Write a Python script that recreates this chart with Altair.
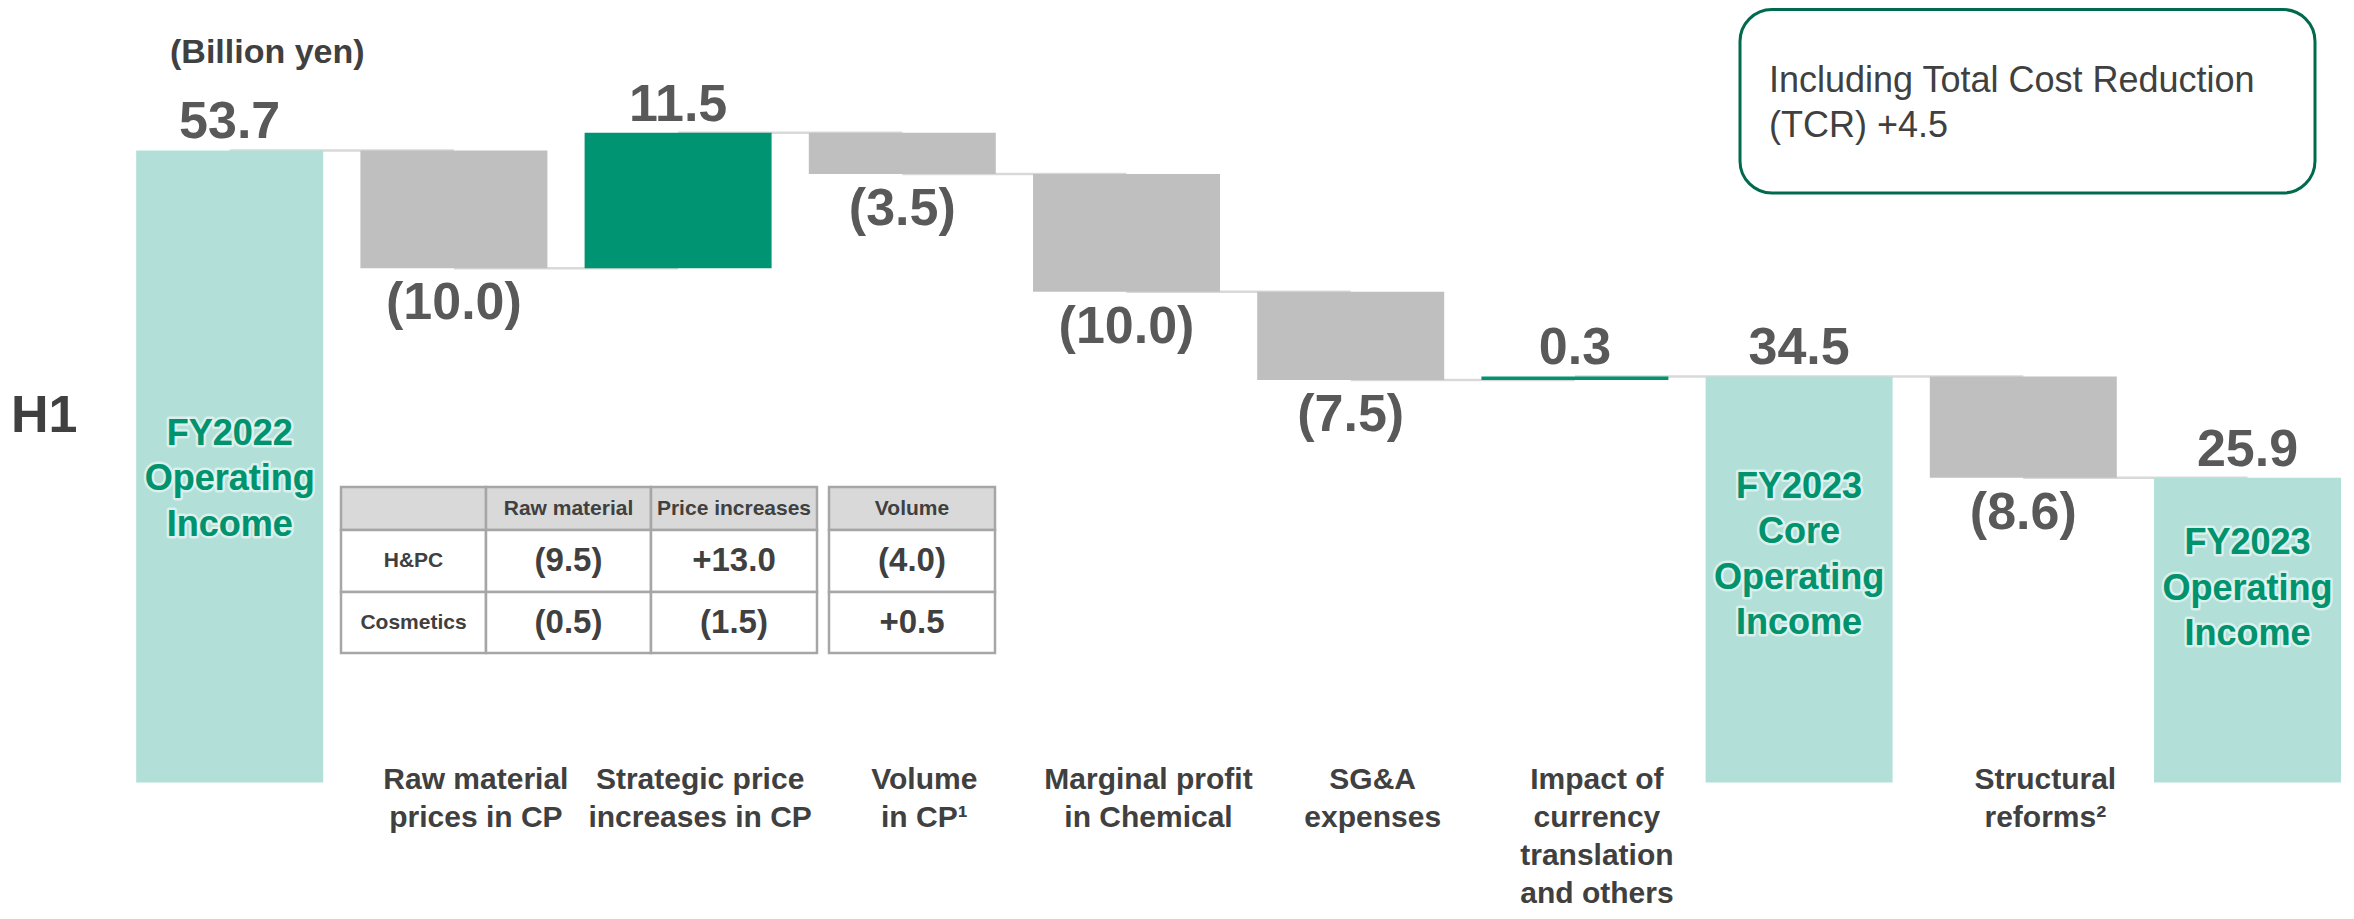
import altair as alt
import pandas as pd

# ---------------- data ----------------
steps = [
    "FY2022 Operating Income",
    "Raw material prices in CP",
    "Strategic price increases in CP",
    "Volume in CP¹",
    "Marginal profit in Chemical",
    "SG&A expenses",
    "Impact of currency translation and others",
    "FY2023 Core Operating Income",
    "Structural reforms²",
    "FY2023 Operating Income",
]
kinds = ["total", "delta", "delta", "delta", "delta", "delta", "delta", "total", "delta", "total"]
amounts = [53.7, -10.0, 11.5, -3.5, -10.0, -7.5, 0.3, 34.5, -8.6, 25.9]
inside_labels = [
    "FY2022\nOperating\nIncome", "", "", "", "", "", "",
    "FY2023\nCore\nOperating\nIncome", "", "FY2023\nOperating\nIncome",
]
under_labels = [
    "",
    "Raw material\nprices in CP",
    "Strategic price\nincreases in CP",
    "Volume\nin CP¹",
    "Marginal profit\nin Chemical",
    "SG&A\nexpenses",
    "Impact of\ncurrency\ntranslation\nand others",
    "",
    "Structural\nreforms²",
    "",
]

table_columns = ["Raw material", "Price increases", "Volume"]
table_rows = ["H&PC", "Cosmetics"]
table_raw = ["(9.5)", "(0.5)"]
table_price = ["+13.0", "(1.5)"]
table_volume = ["(4.0)", "+0.5"]

note_lines = ["Including Total Cost Reduction", "(TCR) +4.5"]
unit_text = "(Billion yen)"
period_text = "H1"

# ---------------- layout / style ----------------
W, H = 2338, 903
FONT = "Liberation Sans"
DARK = "#404040"
NUM = "#595959"
GREEN_TXT = "#00936e"
PX_PER_UNIT = (774.5 - 68.3) / 60
INSIDE_LH = 45.5

xs = alt.Scale(domain=steps, range=[128.2, 2333], paddingInner=0.166, paddingOuter=0)
ys = alt.Scale(domain=[0, 60], range=[774.5, 68.3], nice=False, zero=False)
idx = alt.Scale(domain=[0, W], range=[0, W], nice=False, zero=False)
idy = alt.Scale(domain=[0, H], range=[0, H], nice=False, zero=False)

TABLE_COL_EDGES = [(333, 478), (478, 643), (643, 809), (821, 987)]
TABLE_ROW_EDGES = [(479, 522), (522, 584), (584, 645)]
BOX = dict(x0=1732, x1=2307, y0=1.5, y1=185)

# ---------------- waterfall table ----------------
recs = []
level = 0.0
for i, (s, k, a) in enumerate(zip(steps, kinds, amounts)):
    if k == "total":
        start, end = 0.0, a
        kind = "total"
    else:
        start, end = level, round(level + a, 1)
        kind = "up" if a > 0 else "down"
    level = end
    label = f"{abs(a):.1f}" if a > 0 else f"({abs(a):.1f})"
    recs.append(dict(
        step=s, kind=kind, start=start, end=end,
        top=max(start, end), bottom=min(start, end), label=label,
        inside=inside_labels[i], nlines=len(inside_labels[i].split("\n")),
        under=under_labels[i],
        next=steps[i + 1] if i + 1 < len(steps) else None,
    ))
df = pd.DataFrame(recs)
conn = df[df["next"].notna()]

X = alt.X("step:N", scale=xs, axis=None)

connectors = alt.Chart(conn).mark_rule(color="#d9d9d9", strokeWidth=2.5).encode(
    x=X, x2=alt.X2("next:N"), y=alt.Y("end:Q", scale=ys, axis=None)
)

bars = alt.Chart(df).mark_bar().encode(
    x=X,
    y=alt.Y("start:Q", scale=ys, axis=None),
    y2="end:Q",
    color=alt.Color("kind:N", scale=alt.Scale(domain=["total", "up", "down"],
                                              range=["#b2dfd8", "#009473", "#bfbfbf"]), legend=None),
)

above = alt.Chart(df).transform_filter("datum.kind != 'down'").mark_text(
    font=FONT, fontSize=52, fontWeight="bold", color=NUM, baseline="alphabetic", dy=-12
).encode(x=X, y=alt.Y("top:Q", scale=ys, axis=None), text="label:N")

below = alt.Chart(df).transform_filter("datum.kind == 'down'").mark_text(
    font=FONT, fontSize=52, fontWeight="bold", color=NUM, baseline="alphabetic", dy=51
).encode(x=X, y=alt.Y("bottom:Q", scale=ys, axis=None), text="label:N")

inside_base = alt.Chart(df).transform_filter("datum.kind == 'total'").transform_calculate(
    first=f"7.78 + 0.335 * datum.end + (datum.nlines - 1) / 2 * {INSIDE_LH} / {PX_PER_UNIT}"
)
inside_enc = dict(x=X, y=alt.Y("first:Q", scale=ys, axis=None), text="inside:N")
inside_halo = inside_base.mark_text(
    font=FONT, fontSize=36, fontWeight="bold", color=GREEN_TXT, baseline="middle",
    lineBreak="\n", lineHeight=INSIDE_LH, stroke="white", strokeWidth=5,
    strokeOpacity=0.55, strokeJoin="round"
).encode(**inside_enc)
inside = inside_base.mark_text(
    font=FONT, fontSize=36, fontWeight="bold", color=GREEN_TXT, baseline="middle",
    lineBreak="\n", lineHeight=INSIDE_LH
).encode(**inside_enc)

under = alt.Chart(df).transform_filter("datum.kind != 'total'").mark_text(
    font=FONT, fontSize=30, fontWeight="bold", color=DARK, baseline="alphabetic",
    lineBreak="\n", lineHeight=38, dx=22
).encode(x=X, y=alt.value(781), text="under:N")

main = alt.layer(connectors, bars, above, below, inside_halo, inside, under)

# ---------------- annotation layer (table, note box, titles) ----------------
cells = []
texts = []
col_values = [table_raw, table_price, table_volume]
for ci, (cx0, cx1) in enumerate(TABLE_COL_EDGES):
    for ri, (ry0, ry1) in enumerate(TABLE_ROW_EDGES):
        cells.append(dict(x0=cx0, x1=cx1, y0=ry0, y1=ry1, header=(ri == 0)))
        if ri == 0:
            txt = "" if ci == 0 else table_columns[ci - 1]
            style = "head"
        elif ci == 0:
            txt = table_rows[ri - 1]
            style = "head"
        else:
            txt = col_values[ci - 1][ri - 1]
            style = "value"
        texts.append(dict(x=(cx0 + cx1) / 2, y=(ry0 + ry1) / 2, text=txt, style=style))
cells = pd.DataFrame(cells)
texts = pd.DataFrame(texts)

AX = lambda f: alt.X(f, scale=idx, axis=None)
AY = lambda f: alt.Y(f, scale=idy, axis=None)

head_cells = alt.Chart(cells).transform_filter("datum.header").mark_rect(
    fill="#d9d9d9", stroke="#a6a6a6", strokeWidth=2.5
).encode(x=AX("x0:Q"), x2="x1:Q", y=AY("y0:Q"), y2="y1:Q")
body_cells = alt.Chart(cells).transform_filter("!datum.header").mark_rect(
    fill="white", stroke="#a6a6a6", strokeWidth=2.5
).encode(x=AX("x0:Q"), x2="x1:Q", y=AY("y0:Q"), y2="y1:Q")

head_text = alt.Chart(texts).transform_filter("datum.style == 'head'").mark_text(
    font=FONT, fontSize=21, fontWeight="bold", color=DARK, baseline="middle"
).encode(x=AX("x:Q"), y=AY("y:Q"), text="text:N")
value_text = alt.Chart(texts).transform_filter("datum.style == 'value'").mark_text(
    font=FONT, fontSize=33, fontWeight="bold", color=DARK, baseline="middle"
).encode(x=AX("x:Q"), y=AY("y:Q"), text="text:N")

box = alt.Chart(pd.DataFrame([BOX])).mark_rect(
    fill="white", stroke="#006a4e", strokeWidth=3, cornerRadius=32
).encode(x=AX("x0:Q"), x2="x1:Q", y=AY("y0:Q"), y2="y1:Q")

box_text = alt.Chart(pd.DataFrame([dict(x=1761, y=84, text="\n".join(note_lines))])).mark_text(
    font=FONT, fontSize=36, color=DARK, align="left", baseline="alphabetic",
    lineBreak="\n", lineHeight=45
).encode(x=AX("x:Q"), y=AY("y:Q"), text="text:N")

unit = alt.Chart(pd.DataFrame([dict(x=162, y=55, text=unit_text)])).mark_text(
    font=FONT, fontSize=34, fontWeight="bold", color=DARK, align="left", baseline="alphabetic"
).encode(x=AX("x:Q"), y=AY("y:Q"), text="text:N")

period = alt.Chart(pd.DataFrame([dict(x=3, y=424, text=period_text)])).mark_text(
    font=FONT, fontSize=52, fontWeight="bold", color=DARK, align="left", baseline="alphabetic"
).encode(x=AX("x:Q"), y=AY("y:Q"), text="text:N")

annot = alt.layer(head_cells, body_cells, head_text, value_text, box, box_text, unit, period)

chart = alt.layer(main, annot).resolve_scale(x="independent", y="independent").properties(
    width=W, height=H, autosize=alt.AutoSizeParams(type="none"), padding=0
).configure_view(stroke=None)

chart.save("out.html", embed_options={"renderer": "svg", "actions": False})
